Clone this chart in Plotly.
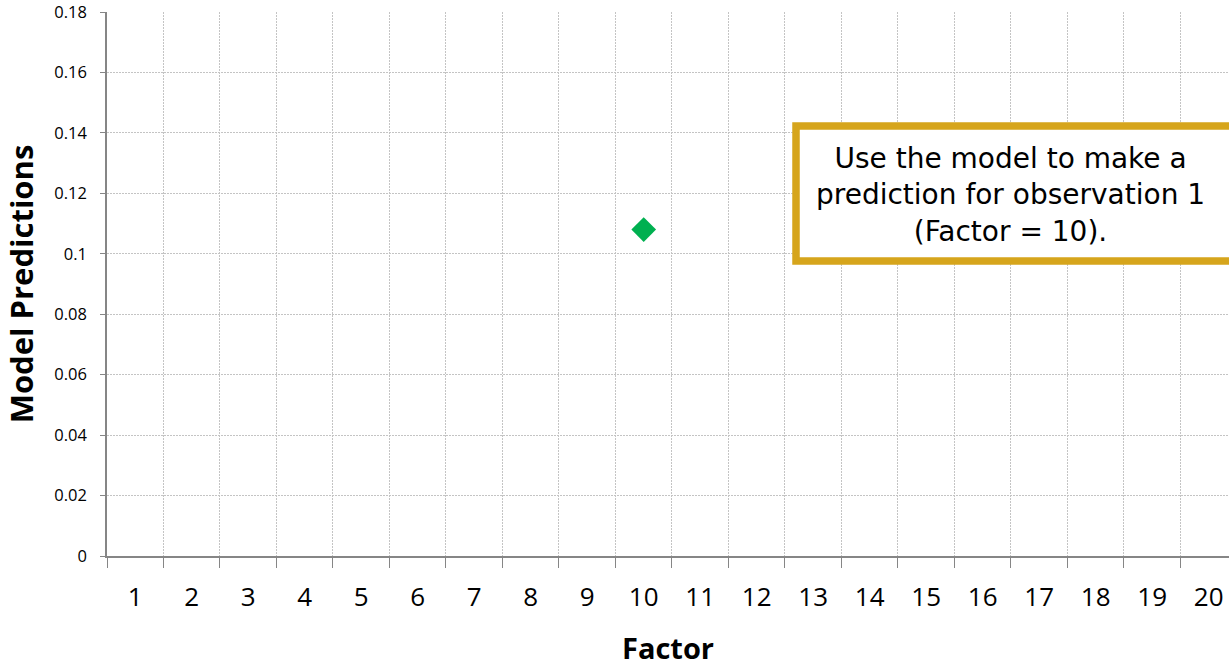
import plotly.graph_objects as go

# Data
factors = [10]
predictions = [0.108]
x_categories = list(range(1, 21))
y_ticks = [0, 0.02, 0.04, 0.06, 0.08, 0.1, 0.12, 0.14, 0.16, 0.18]
y_tick_labels = ["0", "0.02", "0.04", "0.06", "0.08", "0.1", "0.12", "0.14", "0.16", "0.18"]
note_text = "Use the model to make a<br>prediction for observation 1<br>(Factor = 10)."

axis_gray = "#868686"
grid_gray = "#c4c4c4"
label_font = "Open Sans, Lato, sans-serif"

fig = go.Figure()
fig.add_trace(go.Scatter(
    x=factors, y=predictions, mode="markers",
    marker=dict(symbol="diamond", size=19, color="#00B050", line=dict(width=0)),
    showlegend=False, hoverinfo="skip",
))

fig.update_layout(
    width=1229, height=667,
    margin=dict(l=107, r=0, t=12, b=111),
    plot_bgcolor="white", paper_bgcolor="white",
    font=dict(family=label_font, color="black"),
    xaxis=dict(
        range=[0.5, 20.36],
        tickvals=x_categories, ticktext=[str(c) for c in x_categories],
        ticks="", showgrid=False,
        tickfont=dict(size=26, family=label_font),
        ticklabelstandoff=17,
        showline=True, linecolor=axis_gray, linewidth=1.5,
        zeroline=False,
        minor=dict(tick0=0.5, dtick=1, ticks="outside", ticklen=10,
                   tickcolor=axis_gray, tickwidth=1,
                   showgrid=True, gridcolor=grid_gray, griddash="2px,1px", gridwidth=1),
        title=dict(text="<b>Factor</b>", font=dict(size=29), standoff=27),
        automargin=False,
    ),
    yaxis=dict(
        range=[0, 0.18],
        tickvals=y_ticks, ticktext=y_tick_labels,
        ticks="outside", ticklen=5, tickcolor=axis_gray,
        tickfont=dict(size=16.5),
        ticklabeloverflow="allow",
        showgrid=True, gridcolor=grid_gray, griddash="2px,1px", gridwidth=1,
        showline=True, linecolor=axis_gray, linewidth=1.5,
        zeroline=False, ticklabelstandoff=10,
        title=dict(text="<b>Model Predictions</b>", font=dict(size=31), standoff=12),
        automargin=False,
    ),
)

# Callout box with a golden frame
fig.add_shape(
    type="rect", xref="paper", yref="paper",
    x0=(796 - 107) / 1122, x1=(1236 - 107) / 1122,
    y0=(556 - 261) / 544, y1=(556 - 126) / 544,
    line=dict(color="#D6A51C", width=7.5),
    fillcolor="white", layer="above",
)
fig.add_annotation(
    xref="paper", yref="paper",
    x=(1010 - 107) / 1122, y=(556 - 195) / 544,
    text=note_text, showarrow=False,
    font=dict(family="DejaVu Sans, Liberation Sans, sans-serif", size=28, color="black"),
    align="center", xanchor="center", yanchor="middle",
)

fig.write_html("out.html")
